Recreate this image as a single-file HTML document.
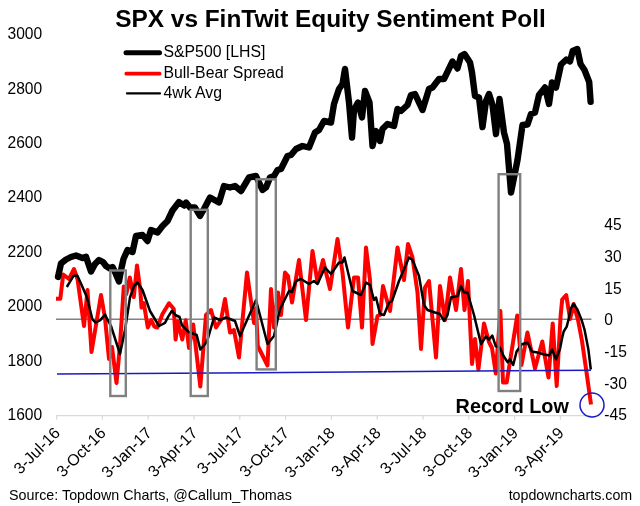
<!DOCTYPE html><html><head><meta charset="utf-8"><style>html,body{margin:0;padding:0;background:#fff}svg{display:block;will-change:transform}text{font-family:"Liberation Sans",sans-serif;fill:#000}</style></head><body>
<svg width="640" height="506" viewBox="0 0 640 506">
<rect width="640" height="506" fill="#fff"/>
<text x="330.5" y="27.1" text-anchor="middle" font-size="24.4" font-weight="bold">SPX vs FinTwit Equity Sentiment Poll</text>
<path d="M56 415.6H591" stroke="#d9d9d9" stroke-width="1.3" fill="none"/>
<path d="M56.6 415.5V419.6" stroke="#d9d9d9" stroke-width="1.3"/>
<path d="M102.4 415.5V419.6" stroke="#d9d9d9" stroke-width="1.3"/>
<path d="M148.2 415.5V419.6" stroke="#d9d9d9" stroke-width="1.3"/>
<path d="M194 415.5V419.6" stroke="#d9d9d9" stroke-width="1.3"/>
<path d="M239.8 415.5V419.6" stroke="#d9d9d9" stroke-width="1.3"/>
<path d="M285.6 415.5V419.6" stroke="#d9d9d9" stroke-width="1.3"/>
<path d="M331.4 415.5V419.6" stroke="#d9d9d9" stroke-width="1.3"/>
<path d="M377.2 415.5V419.6" stroke="#d9d9d9" stroke-width="1.3"/>
<path d="M423 415.5V419.6" stroke="#d9d9d9" stroke-width="1.3"/>
<path d="M468.8 415.5V419.6" stroke="#d9d9d9" stroke-width="1.3"/>
<path d="M514.6 415.5V419.6" stroke="#d9d9d9" stroke-width="1.3"/>
<path d="M560.4 415.5V419.6" stroke="#d9d9d9" stroke-width="1.3"/>
<path d="M56 319.2H591.4" stroke="#808080" stroke-width="1.4"/>
<polyline points="56,298.8 60.3,298.8 63.2,274.5 69,279 74,269 77.5,279 84,326 87.5,290 91.5,352 101,295 105,318 109,359 112,347 116.5,383 120,345 123.8,286.5 126.3,294 129.8,277.5 133.8,297 137,265.5 140.3,290 141.5,307.5 143.8,303 147.8,327.5 151.2,320 154.3,326.5 157.3,327.5 162.5,314 169,303.3 173.8,309 175.6,339.5 177.7,321.5 182.3,339.5 185.7,320.3 189,348 193.2,324.5 200.3,386.5 206,315 211,310 216,327.5 221,320 225,299 230,332.5 234,330 239,357.5 247,272.5 254,323 256,308 257.8,346 267.5,365.5 271,289 274,327.5 278,292.5 281,315 285,272.5 288,276 292,302.5 299,260 306,320 312.5,251 317.5,282.5 323,260 330,289 337.5,239 342.5,272.5 348,327.5 354,277.5 358,277.5 362,327.5 366,247.5 370,280 372.5,344 377.5,316 380,315 383,286 386,297 390,311 397.5,247.5 404,280 408,244 412.5,257.5 417.5,292.5 421,349 425,287.5 429,281 436,357.5 440,286 445,320 450,277.5 456,310 461,269 464.5,310 468,281 472,364 475,339 478.4,369.5 484,323.5 489,342 492,348 495.8,373.5 500.4,311 503,382.5 506.7,382.5 517.2,315.5 521.5,365 527.4,332.5 535,368.5 542.3,341.5 548.5,377.5 552.7,323.5 556.7,386 560.6,316 562.2,299.5 566.2,295 570.1,319 573.6,304 578,320 582,341 586.4,371.4 591,404.5" fill="none" stroke="#ff0000" stroke-width="4" stroke-linejoin="round" stroke-linecap="butt"/>
<path d="M57 374.1L591 370.2" stroke="#1a1ac4" stroke-width="1.5"/>
<polyline points="66.8,287 73.5,275.8 77.4,275.8 81.4,284.5 86.9,297.2 92.4,319.3 95.6,322.5 100.3,320.1 105,314.6 108.2,321 111,326 120,354 125,330 130,297.5 134,286 137.5,282.5 142.5,290 150,311 159,326 165,322.9 168.2,316.6 172,310.7 175.3,315 179.6,317 182,325.3 188.7,332 196.7,335 200.3,349.5 205.1,344 207.5,340 214,317.5 220,320 226,317.5 235,321 240,336 256,300 267.5,344 274,336 280,309 289,291 292,292 296,281 301,279 309,284 314,281 317.5,284 325,267.5 331,274 339,262.5 342.5,262.5 344.5,257.5 352.5,291 361,295 366,282.5 370,285 374,300 376,297.5 380,314 384,315 389,302.5 392,301 399,281 409,257.5 412.5,260 419,276 424,305 427.5,310 435,312.5 440,314 444,321 447.5,315 451,297.5 457.5,296 461,286 464,292.5 467.5,292.5 474,315 481,344 486,336.5 489,339.5 492.3,335.6 495.8,346.4 499.8,347.4 503.7,356.3 507.7,362.3 510,359.3 513.2,365 516.6,351.5 521.5,344.5 527.4,342.5 531.8,351.4 537.3,352.4 543.2,354.3 549.2,355.5 552.1,349.5 556,359.3 560,349 562.2,337.4 563.7,331.5 566.7,326.6 568.7,318.7 570.6,308.8 573.6,303.8 577.5,309.8 581.5,319.6 584.5,329.5 588.4,349.6 590.8,369.5" fill="none" stroke="#000" stroke-width="2.5" stroke-linejoin="round"/>
<polyline points="58,277 61,263.5 66,259.5 71,257 76,255.5 82.5,258 86,256.7 91,271.5 95,264 99,260 103,262 106,266 110,268.5 112.5,267 115,272 119,281.5 121.5,268 123.5,259 127.5,250 132.5,252 136,236 142.5,235 147.5,241 151,230 157.5,232.5 162.5,226 167.5,221 172.5,210.5 179,202 184,205.5 186,202.5 190,207.5 195,207.5 200,216 204,209 210,197.5 219,202.5 224,186 230,187.5 235,186 241,191 249,177.5 256,176 262.5,190 266,187.5 270,177.5 274,176 277.5,170 281,169 287.5,156 291,155 296,149 302.5,146 309,147.5 315,132.5 319,130 324,121 331,122.5 334,104 339,89 342.5,84 345,69 349,102.5 352,137.5 354,110 358,102.5 362,117.5 365,91 369.5,102.5 372.5,146 376,131 380,141 382.5,129 387.5,124 394,126 397.5,109 401,111 407.5,105 411,95 415,94 422.5,110 429,89 432.5,87.5 439,79 444,79 452.5,61.5 457.5,68.5 461,56 464.5,54 470,62.5 472,72.5 475,96 479,97.5 482.5,127 486,101 489,94 492.5,105 496,134 499.5,99 504,132.5 507,144 511,192.5 517.5,160 522.5,125 527.5,124.5 531,114 535,112.5 539,95 545,87.5 549,104 552,82.5 556,87.5 561,64.5 566.4,59.5 570,61.5 572.7,51 577.3,49 580.5,64 584.5,70 589.2,82 590.6,101.8" fill="none" stroke="#000" stroke-width="6.4" stroke-linejoin="round" stroke-linecap="round"/>
<rect x="110.3" y="270.5" width="15.5" height="125.5" fill="none" stroke="#808080" stroke-width="2.4"/>
<rect x="190.7" y="209.8" width="17.1" height="186.2" fill="none" stroke="#808080" stroke-width="2.4"/>
<rect x="256.6" y="179.3" width="19.2" height="190.1" fill="none" stroke="#808080" stroke-width="2.4"/>
<rect x="498.6" y="174.2" width="21.6" height="216.8" fill="none" stroke="#808080" stroke-width="2.4"/>
<circle cx="592" cy="405" r="12" fill="none" stroke="#1a1ac4" stroke-width="1.5"/>
<text x="7.5" y="39.2" font-size="15.6">3000</text>
<text x="7.5" y="93.63" font-size="15.6">2800</text>
<text x="7.5" y="148.06" font-size="15.6">2600</text>
<text x="7.5" y="202.49" font-size="15.6">2400</text>
<text x="7.5" y="256.92" font-size="15.6">2200</text>
<text x="7.5" y="311.35" font-size="15.6">2000</text>
<text x="7.5" y="365.78" font-size="15.6">1800</text>
<text x="7.5" y="420.21" font-size="15.6">1600</text>
<text x="604.3" y="230.1" font-size="15.6">45</text>
<text x="604.3" y="261.8" font-size="15.6">30</text>
<text x="604.3" y="293.5" font-size="15.6">15</text>
<text x="604.3" y="325.2" font-size="15.6">0</text>
<text x="604.3" y="356.9" font-size="15.6">-15</text>
<text x="604.3" y="388.6" font-size="15.6">-30</text>
<text x="604.3" y="420.3" font-size="15.6">-45</text>
<text transform="translate(61.1,434) rotate(-45)" text-anchor="end" font-size="16">3-Jul-16</text>
<text transform="translate(106.9,434) rotate(-45)" text-anchor="end" font-size="16">3-Oct-16</text>
<text transform="translate(152.7,434) rotate(-45)" text-anchor="end" font-size="16">3-Jan-17</text>
<text transform="translate(198.5,434) rotate(-45)" text-anchor="end" font-size="16">3-Apr-17</text>
<text transform="translate(244.3,434) rotate(-45)" text-anchor="end" font-size="16">3-Jul-17</text>
<text transform="translate(290.1,434) rotate(-45)" text-anchor="end" font-size="16">3-Oct-17</text>
<text transform="translate(335.9,434) rotate(-45)" text-anchor="end" font-size="16">3-Jan-18</text>
<text transform="translate(381.7,434) rotate(-45)" text-anchor="end" font-size="16">3-Apr-18</text>
<text transform="translate(427.5,434) rotate(-45)" text-anchor="end" font-size="16">3-Jul-18</text>
<text transform="translate(473.3,434) rotate(-45)" text-anchor="end" font-size="16">3-Oct-18</text>
<text transform="translate(519.1,434) rotate(-45)" text-anchor="end" font-size="16">3-Jan-19</text>
<text transform="translate(564.9,434) rotate(-45)" text-anchor="end" font-size="16">3-Apr-19</text>
<path d="M126 52.8H159.5" stroke="#000" stroke-width="5" stroke-linecap="round"/>
<path d="M126.3 73.7H159.6" stroke="#ff0000" stroke-width="3.8" stroke-linecap="round"/>
<path d="M127 93.4H160" stroke="#000" stroke-width="2.2" stroke-linecap="round"/>
<text x="163.5" y="57.3" font-size="15.8">S&amp;P500 [LHS]</text>
<text x="163.5" y="77.7" font-size="15.8">Bull-Bear Spread</text>
<text x="163.5" y="97.5" font-size="15.8">4wk Avg</text>
<text x="455.6" y="412.7" font-size="19.8" font-weight="bold">Record Low</text>
<text x="9" y="499.6" font-size="14.3">Source: Topdown Charts, @Callum_Thomas</text>
<text x="632.2" y="499.6" text-anchor="end" font-size="14.25">topdowncharts.com</text>
</svg></body></html>
